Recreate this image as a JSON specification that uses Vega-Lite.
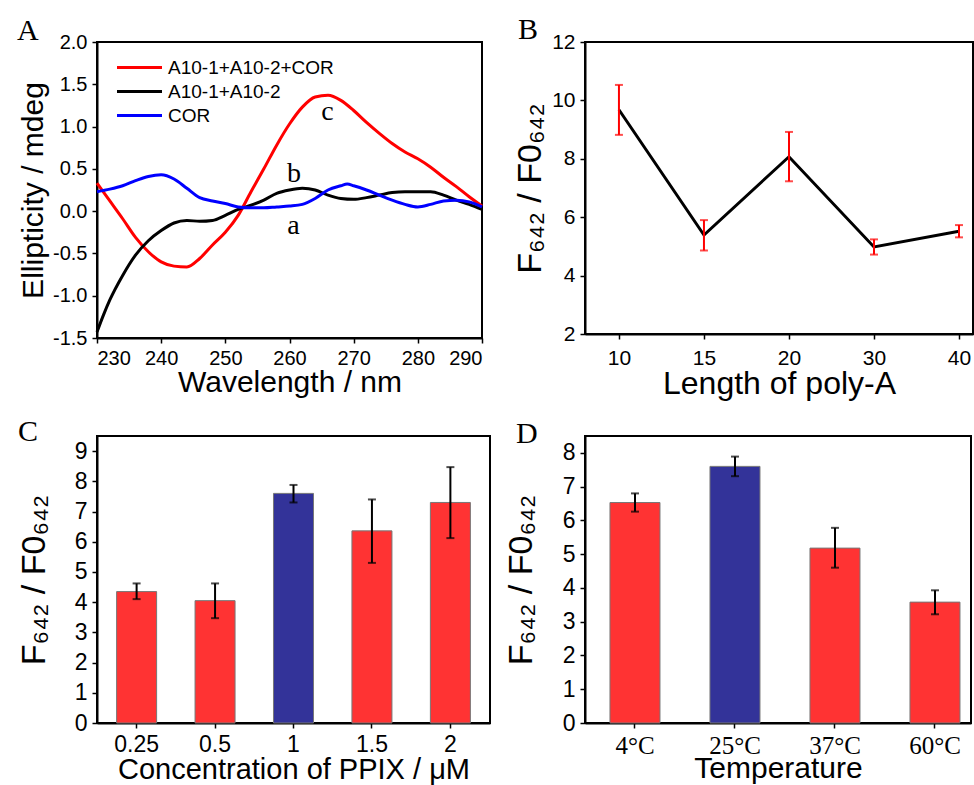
{
  "$schema": "https://vega.github.io/schema/vega-lite/v6.json",
  "background": "white",
  "padding": {"left": 16, "top": 14, "right": 0, "bottom": 0},
  "columns": 2,
  "spacing": {"row": 98, "column": 95},
  "bounds": "flush",
  "config": {
    "view": {"stroke": "black", "strokeWidth": 2},
    "axis": {
      "grid": false, "domainColor": "black", "domainWidth": 2, "tickColor": "black", "tickWidth": 1.5, "tickSize": 5,
      "labelColor": "black", "titleColor": "black", "labelFont": "Liberation Sans", "titleFont": "Liberation Sans",
      "titleFontWeight": "normal", "labelPadding": 5, "labelOverlap": false
    },
    "title": {"font": "Liberation Serif", "fontSize": 30, "fontWeight": "normal", "anchor": "start", "frame": "group", "color": "black"}
  },
  "datasets": {
    "cd": [
      {"wl": 230, "v": 0.33, "s": "A10-1+A10-2+COR"}, {"wl": 232, "v": 0.12, "s": "A10-1+A10-2+COR"}, {"wl": 234, "v": -0.09, "s": "A10-1+A10-2+COR"},
      {"wl": 236, "v": -0.31, "s": "A10-1+A10-2+COR"}, {"wl": 238, "v": -0.48, "s": "A10-1+A10-2+COR"}, {"wl": 240, "v": -0.6, "s": "A10-1+A10-2+COR"},
      {"wl": 242, "v": -0.65, "s": "A10-1+A10-2+COR"}, {"wl": 244, "v": -0.66, "s": "A10-1+A10-2+COR"}, {"wl": 246, "v": -0.56, "s": "A10-1+A10-2+COR"},
      {"wl": 248, "v": -0.4, "s": "A10-1+A10-2+COR"}, {"wl": 250, "v": -0.25, "s": "A10-1+A10-2+COR"}, {"wl": 252, "v": -0.05, "s": "A10-1+A10-2+COR"},
      {"wl": 254, "v": 0.23, "s": "A10-1+A10-2+COR"}, {"wl": 256, "v": 0.5, "s": "A10-1+A10-2+COR"}, {"wl": 258, "v": 0.78, "s": "A10-1+A10-2+COR"},
      {"wl": 260, "v": 1.03, "s": "A10-1+A10-2+COR"}, {"wl": 262, "v": 1.23, "s": "A10-1+A10-2+COR"}, {"wl": 264, "v": 1.35, "s": "A10-1+A10-2+COR"},
      {"wl": 266, "v": 1.37, "s": "A10-1+A10-2+COR"}, {"wl": 268, "v": 1.31, "s": "A10-1+A10-2+COR"}, {"wl": 270, "v": 1.19, "s": "A10-1+A10-2+COR"},
      {"wl": 272, "v": 1.05, "s": "A10-1+A10-2+COR"}, {"wl": 274, "v": 0.92, "s": "A10-1+A10-2+COR"}, {"wl": 276, "v": 0.8, "s": "A10-1+A10-2+COR"},
      {"wl": 278, "v": 0.7, "s": "A10-1+A10-2+COR"}, {"wl": 280, "v": 0.62, "s": "A10-1+A10-2+COR"}, {"wl": 282, "v": 0.52, "s": "A10-1+A10-2+COR"},
      {"wl": 284, "v": 0.4, "s": "A10-1+A10-2+COR"}, {"wl": 286, "v": 0.29, "s": "A10-1+A10-2+COR"}, {"wl": 288, "v": 0.17, "s": "A10-1+A10-2+COR"},
      {"wl": 290, "v": 0.06, "s": "A10-1+A10-2+COR"},
      {"wl": 230, "v": -1.43, "s": "A10-1+A10-2"}, {"wl": 231, "v": -1.23, "s": "A10-1+A10-2"}, {"wl": 232, "v": -1.05, "s": "A10-1+A10-2"},
      {"wl": 234, "v": -0.76, "s": "A10-1+A10-2"}, {"wl": 236, "v": -0.52, "s": "A10-1+A10-2"}, {"wl": 238, "v": -0.35, "s": "A10-1+A10-2"},
      {"wl": 240, "v": -0.23, "s": "A10-1+A10-2"}, {"wl": 242, "v": -0.14, "s": "A10-1+A10-2"}, {"wl": 244, "v": -0.11, "s": "A10-1+A10-2"},
      {"wl": 246, "v": -0.12, "s": "A10-1+A10-2"}, {"wl": 248, "v": -0.11, "s": "A10-1+A10-2"}, {"wl": 250, "v": -0.05, "s": "A10-1+A10-2"},
      {"wl": 252, "v": 0.02, "s": "A10-1+A10-2"}, {"wl": 254, "v": 0.07, "s": "A10-1+A10-2"}, {"wl": 256, "v": 0.13, "s": "A10-1+A10-2"},
      {"wl": 258, "v": 0.21, "s": "A10-1+A10-2"}, {"wl": 260, "v": 0.25, "s": "A10-1+A10-2"}, {"wl": 262, "v": 0.27, "s": "A10-1+A10-2"},
      {"wl": 264, "v": 0.25, "s": "A10-1+A10-2"}, {"wl": 266, "v": 0.19, "s": "A10-1+A10-2"}, {"wl": 268, "v": 0.15, "s": "A10-1+A10-2"},
      {"wl": 270, "v": 0.14, "s": "A10-1+A10-2"}, {"wl": 272, "v": 0.16, "s": "A10-1+A10-2"}, {"wl": 274, "v": 0.19, "s": "A10-1+A10-2"},
      {"wl": 276, "v": 0.22, "s": "A10-1+A10-2"}, {"wl": 278, "v": 0.23, "s": "A10-1+A10-2"}, {"wl": 280, "v": 0.23, "s": "A10-1+A10-2"},
      {"wl": 282, "v": 0.23, "s": "A10-1+A10-2"}, {"wl": 284, "v": 0.19, "s": "A10-1+A10-2"}, {"wl": 286, "v": 0.13, "s": "A10-1+A10-2"},
      {"wl": 288, "v": 0.08, "s": "A10-1+A10-2"}, {"wl": 290, "v": 0.02, "s": "A10-1+A10-2"},
      {"wl": 230, "v": 0.23, "s": "COR"}, {"wl": 232, "v": 0.26, "s": "COR"}, {"wl": 234, "v": 0.3, "s": "COR"},
      {"wl": 236, "v": 0.36, "s": "COR"}, {"wl": 238, "v": 0.41, "s": "COR"}, {"wl": 240, "v": 0.43, "s": "COR"},
      {"wl": 242, "v": 0.38, "s": "COR"}, {"wl": 244, "v": 0.27, "s": "COR"}, {"wl": 246, "v": 0.16, "s": "COR"},
      {"wl": 248, "v": 0.12, "s": "COR"}, {"wl": 250, "v": 0.09, "s": "COR"}, {"wl": 252, "v": 0.05, "s": "COR"},
      {"wl": 254, "v": 0.04, "s": "COR"}, {"wl": 256, "v": 0.04, "s": "COR"}, {"wl": 258, "v": 0.05, "s": "COR"},
      {"wl": 260, "v": 0.06, "s": "COR"}, {"wl": 262, "v": 0.08, "s": "COR"}, {"wl": 264, "v": 0.15, "s": "COR"},
      {"wl": 266, "v": 0.25, "s": "COR"}, {"wl": 268, "v": 0.3, "s": "COR"}, {"wl": 269, "v": 0.32, "s": "COR"},
      {"wl": 270, "v": 0.3, "s": "COR"}, {"wl": 272, "v": 0.25, "s": "COR"}, {"wl": 274, "v": 0.19, "s": "COR"},
      {"wl": 276, "v": 0.13, "s": "COR"}, {"wl": 278, "v": 0.08, "s": "COR"}, {"wl": 280, "v": 0.05, "s": "COR"},
      {"wl": 282, "v": 0.08, "s": "COR"}, {"wl": 284, "v": 0.12, "s": "COR"}, {"wl": 286, "v": 0.13, "s": "COR"},
      {"wl": 288, "v": 0.11, "s": "COR"}, {"wl": 290, "v": 0.05, "s": "COR"}
    ],
    "cdlab": [
      {"wl": 265.9, "v": 1.17, "t": "c"}, {"wl": 260.7, "v": 0.44, "t": "b"}, {"wl": 260.6, "v": -0.17, "t": "a"}
    ],
    "polya": [
      {"len": "10", "r": 9.68, "lo": 8.82, "hi": 10.53},
      {"len": "15", "r": 5.39, "lo": 4.86, "hi": 5.9},
      {"len": "20", "r": 8.07, "lo": 7.23, "hi": 8.92},
      {"len": "30", "r": 4.98, "lo": 4.72, "hi": 5.24},
      {"len": "40", "r": 5.52, "lo": 5.31, "hi": 5.73}
    ],
    "ppix": [
      {"c": "0.25", "r": 4.35, "lo": 4.1, "hi": 4.62, "g": "other"},
      {"c": "0.5", "r": 4.05, "lo": 3.47, "hi": 4.62, "g": "other"},
      {"c": "1", "r": 7.6, "lo": 7.3, "hi": 7.88, "g": "best"},
      {"c": "1.5", "r": 6.36, "lo": 5.3, "hi": 7.4, "g": "other"},
      {"c": "2", "r": 7.3, "lo": 6.12, "hi": 8.47, "g": "other"}
    ],
    "temp": [
      {"t": "4°C", "r": 6.53, "lo": 6.26, "hi": 6.8, "g": "other"},
      {"t": "25°C", "r": 7.6, "lo": 7.31, "hi": 7.89, "g": "best"},
      {"t": "37°C", "r": 5.18, "lo": 4.6, "hi": 5.78, "g": "other"},
      {"t": "60°C", "r": 3.58, "lo": 3.22, "hi": 3.93, "g": "other"}
    ]
  },
  "concat": [
    {
      "width": 385, "height": 296,
      "title": {"text": "A", "dx": -80, "offset": -14},
      "layer": [
        {
          "data": {"name": "cd"},
          "mark": {"type": "line", "strokeWidth": 3, "interpolate": "monotone"},
          "encoding": {
            "x": {"field": "wl", "type": "quantitative", "scale": {"domain": [230, 290], "nice": false},
                  "axis": {"values": [230, 240, 250, 260, 270, 280, 290], "title": "Wavelength / nm", "labelFontSize": 20, "titleFontSize": 30, "titlePadding": -1}},
            "y": {"field": "v", "type": "quantitative", "scale": {"domain": [-1.5, 2], "nice": false},
                  "axis": {"values": [-1.5, -1, -0.5, 0, 0.5, 1, 1.5, 2], "labelExpr": "replace(format(datum.value, '.1f'), '−', '-')", "title": "Ellipticity / mdeg", "labelFontSize": 20, "titleFontSize": 30, "titlePadding": 4}},
            "color": {"field": "s", "type": "nominal",
                      "scale": {"domain": ["A10-1+A10-2+COR", "A10-1+A10-2", "COR"], "range": ["#FF0000", "#000000", "#0000FF"]},
                      "legend": {"orient": "none", "legendX": 33, "legendY": 16, "title": null, "symbolType": "M-3,0H3", "symbolSize": 225,
                                 "symbolStrokeWidth": 3, "labelFontSize": 19, "labelFont": "Liberation Sans", "labelColor": "black",
                                 "rowPadding": 4, "labelOffset": 19, "padding": 0, "labelLimit": 0}}
          }
        },
        {
          "data": {"name": "cdlab"},
          "mark": {"type": "text", "font": "Liberation Serif", "fontSize": 28, "color": "black", "align": "center", "baseline": "middle"},
          "encoding": {
            "x": {"field": "wl", "type": "quantitative"},
            "y": {"field": "v", "type": "quantitative"},
            "text": {"field": "t", "type": "nominal"}
          }
        }
      ]
    },
    {
      "width": 388, "height": 292,
      "title": {"text": "B", "dx": -67, "offset": -14},
      "data": {"name": "polya"},
      "layer": [
        {
          "mark": {"type": "line", "color": "black", "strokeWidth": 3},
          "encoding": {
            "x": {"field": "len", "type": "ordinal", "scale": {"type": "point", "padding": 0.282, "align": 0.708},
                  "axis": {"labelAngle": 0, "title": "Length of poly-A", "labelFontSize": 21, "labelPadding": 8, "titleFontSize": 32, "titlePadding": 0}},
            "y": {"field": "r", "type": "quantitative", "scale": {"domain": [2, 12], "nice": false},
                  "axis": {"values": [2, 4, 6, 8, 10, 12], "title": "F₆₄₂ / F0₆₄₂", "labelFontSize": 21, "titleFontSize": 34, "titlePadding": 4}}
          }
        },
        {
          "mark": {"type": "errorbar", "color": "#FF0000", "thickness": 2, "ticks": {"size": 8, "thickness": 2, "color": "#FF0000"}},
          "encoding": {
            "x": {"field": "len", "type": "ordinal",
                  "axis": {"labelAngle": 0, "title": "Length of poly-A", "labelFontSize": 21, "labelPadding": 8, "titleFontSize": 32, "titlePadding": 0}},
            "y": {"field": "lo", "type": "quantitative",
                  "axis": {"values": [2, 4, 6, 8, 10, 12], "title": "F₆₄₂ / F0₆₄₂", "labelFontSize": 21, "titleFontSize": 34, "titlePadding": 4}},
            "y2": {"field": "hi"}
          }
        }
      ]
    },
    {
      "width": 393, "height": 287,
      "title": {"text": "C", "dx": -79, "offset": -11},
      "data": {"name": "ppix"},
      "layer": [
        {
          "mark": {"type": "bar", "stroke": "#777777", "strokeWidth": 1},
          "encoding": {
            "x": {"field": "c", "type": "ordinal", "sort": null, "scale": {"paddingInner": 0.49, "paddingOuter": 0.25, "align": 0.5},
                  "axis": {"labelAngle": 0, "title": "Concentration of PPIX / μM", "labelFontSize": 23, "titleFontSize": 29, "titlePadding": -1}},
            "y": {"field": "r", "type": "quantitative", "scale": {"domain": [0, 9.5], "nice": false},
                  "axis": {"values": [0, 1, 2, 3, 4, 5, 6, 7, 8, 9], "labelOverlap": false, "title": "F₆₄₂ / F0₆₄₂", "labelFontSize": 23, "titleFontSize": 34, "titlePadding": 23}},
            "color": {"condition": {"test": "datum.g === 'best'", "value": "#333399"}, "value": "#FF3333"}
          }
        },
        {
          "mark": {"type": "errorbar", "color": "black", "thickness": 2, "ticks": {"size": 8, "thickness": 2, "color": "black"}},
          "encoding": {
            "x": {"field": "c", "type": "ordinal", "sort": null,
                  "axis": {"labelAngle": 0, "title": "Concentration of PPIX / μM", "labelFontSize": 23, "titleFontSize": 29, "titlePadding": -1}},
            "y": {"field": "lo", "type": "quantitative",
                  "axis": {"values": [0, 1, 2, 3, 4, 5, 6, 7, 8, 9], "labelOverlap": false, "title": "F₆₄₂ / F0₆₄₂", "labelFontSize": 23, "titleFontSize": 34, "titlePadding": 23}},
            "y2": {"field": "hi"}
          }
        }
      ]
    },
    {
      "width": 386, "height": 287,
      "title": {"text": "D", "dx": -69, "offset": -13},
      "data": {"name": "temp"},
      "layer": [
        {
          "mark": {"type": "bar", "stroke": "#777777", "strokeWidth": 1},
          "encoding": {
            "x": {"field": "t", "type": "ordinal", "sort": null, "scale": {"paddingInner": 0.5, "paddingOuter": 0.18, "align": 0.694},
                  "axis": {"labelAngle": 0, "title": "Temperature", "labelFont": "Liberation Serif", "labelFontSize": 25, "titleFontSize": 30, "titlePadding": -5}},
            "y": {"field": "r", "type": "quantitative", "scale": {"domain": [0, 8.5], "nice": false},
                  "axis": {"values": [0, 1, 2, 3, 4, 5, 6, 7, 8], "labelOverlap": false, "title": "F₆₄₂ / F0₆₄₂", "labelFontSize": 23, "titleFontSize": 34, "titlePadding": 24}},
            "color": {"condition": {"test": "datum.g === 'best'", "value": "#333399"}, "value": "#FF3333"}
          }
        },
        {
          "mark": {"type": "errorbar", "color": "black", "thickness": 2, "ticks": {"size": 8, "thickness": 2, "color": "black"}},
          "encoding": {
            "x": {"field": "t", "type": "ordinal", "sort": null,
                  "axis": {"labelAngle": 0, "title": "Temperature", "labelFont": "Liberation Serif", "labelFontSize": 25, "titleFontSize": 30, "titlePadding": -5}},
            "y": {"field": "lo", "type": "quantitative",
                  "axis": {"values": [0, 1, 2, 3, 4, 5, 6, 7, 8], "labelOverlap": false, "title": "F₆₄₂ / F0₆₄₂", "labelFontSize": 23, "titleFontSize": 34, "titlePadding": 24}},
            "y2": {"field": "hi"}
          }
        }
      ]
    }
  ]
}
